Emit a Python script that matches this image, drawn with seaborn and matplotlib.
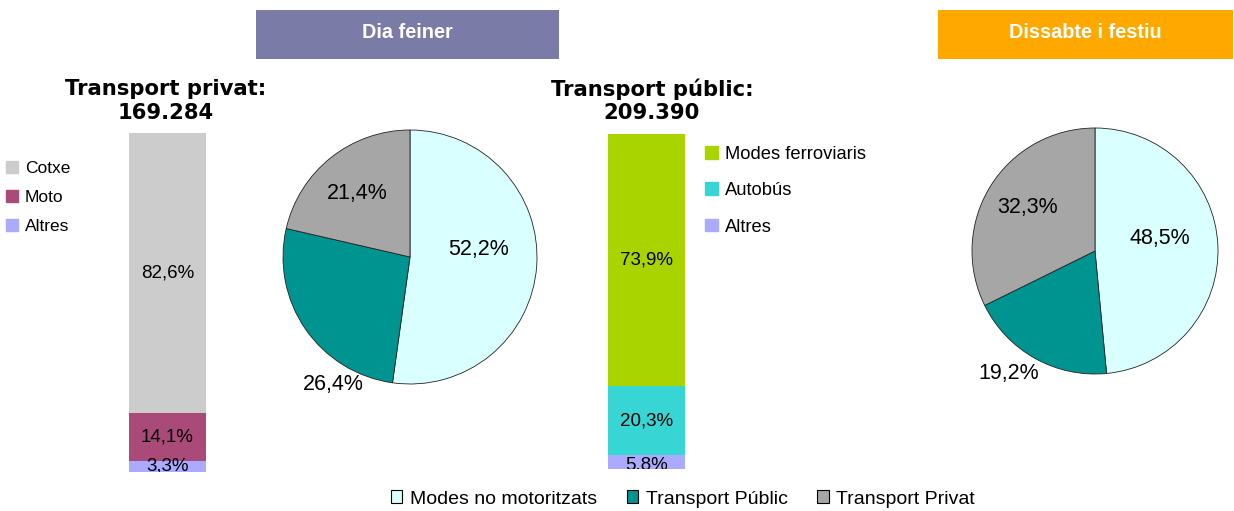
import numpy as np
import seaborn as sns
import matplotlib
matplotlib.use('Agg')
import matplotlib.pyplot as plt
from matplotlib.patches import Patch, Rectangle

# DATA
priv_labels = ['Cotxe', 'Moto', 'Altres']
priv_values = [82.6, 14.1, 3.3]
priv_colors = ['#CCCCCC', '#A94A78', '#AAAAFF']

pub_labels = ['Modes ferroviaris', 'Autobús', 'Altres']
pub_values = [73.9, 20.3, 5.8]
pub_colors = ['#AAD400', '#38D5D5', '#AAAAFF']

mode_labels = ['Modes no motoritzats', 'Transport Públic', 'Transport Privat']
mode_colors = ['#D9FFFF', '#009490', '#A6A6A6']
feiner_values = [52.2, 26.4, 21.4]
festiu_values = [48.5, 19.2, 32.3]

priv_total = '169.284'
pub_total = '209.390'

W, H = 1234, 511
sns.set_theme(style='white')
plt.rcParams['font.family'] = ['Liberation Sans', 'DejaVu Sans']
plt.rcParams['text.color'] = 'black'

fig = plt.figure(figsize=(W / 100, H / 100), dpi=100)


def px_box(x0, y0, x1, y1):
    return [x0 / W, 1 - y1 / H, (x1 - x0) / W, (y1 - y0) / H]


def pct(v):
    return f'{v:.1f}%'.replace('.', ',')


# STACKED BARS
def stacked_bar(box, values, colors, ymin):
    ax = fig.add_axes(px_box(*box))
    tops = np.cumsum(values[::-1])[::-1]
    for v, top, c in zip(values, tops, colors):
        sns.barplot(x=[0], y=[top], color=c, saturation=1, width=1,
                    linewidth=0, ax=ax)
        ax.text(0, top - v / 2, pct(v), ha='center', va='center',
                fontsize=13.5, color='black', clip_on=True)
    ax.set_xlim(-0.5, 0.5)
    ax.set_ylim(ymin, 100)
    ax.axis('off')
    return ax


ax_priv = stacked_bar((129, 133, 206, 472), priv_values, priv_colors, 0)
ax_pub = stacked_bar((608, 134, 685, 469), pub_values, pub_colors, 1.8)

for x, text in [(166, 'Transport privat:\n' + priv_total),
                (652, 'Transport públic:\n' + pub_total)]:
    fig.text(x / W, 1 - 101 / H, text, ha='center', va='center',
             fontsize=15.2, fontweight='bold', family='DejaVu Sans',
             linespacing=1.2, color='black')

leg_kw = dict(frameon=False, handlelength=0.7, handleheight=0.7,
              handletextpad=0.4, borderpad=0, borderaxespad=0)
fig.legend(handles=[Patch(color=c, label=l) for l, c in zip(priv_labels, priv_colors)],
           loc='upper left', bbox_to_anchor=(6 / W, 1 - 161 / H),
           labelspacing=0.8, fontsize=12.5, **leg_kw)
fig.legend(handles=[Patch(color=c, label=l) for l, c in zip(pub_labels, pub_colors)],
           loc='upper left', bbox_to_anchor=(705 / W, 1 - 146 / H),
           labelspacing=1.05, fontsize=13.2, **leg_kw)


# PIES
def pie(cx, cy, r, values, label_pos):
    k = 1.3
    ax = fig.add_axes(px_box(cx - k * r, cy - k * r, cx + k * r, cy + k * r))
    ax.pie(values, colors=mode_colors, startangle=90, counterclock=False,
           wedgeprops=dict(edgecolor='#222222', linewidth=0.6))
    ax.set_xlim(-k, k)
    ax.set_ylim(-k, k)
    ax.set_aspect('equal')
    ax.axis('off')
    for v, (rr, ang) in zip(values, label_pos):
        a = np.deg2rad(ang)
        ax.text(rr * np.cos(a), rr * np.sin(a), pct(v), ha='center',
                va='center', fontsize=15.5, color='black')
    return ax


pie(410, 257, 127, feiner_values, [(0.54, 6), (1.17, -121), (0.65, 130)])
pie(1095, 251, 123, festiu_values, [(0.54, 11), (1.22, -125), (0.65, 147)])

# HEADER BOXES
for (x0, x1), text, col in [((256, 559), 'Dia feiner', '#7B7BA8'),
                            ((938, 1233), 'Dissabte i festiu', '#FFA800')]:
    fig.add_artist(Rectangle((x0 / W, 1 - 59 / H), (x1 - x0) / W, 49 / H,
                             transform=fig.transFigure, color=col, lw=0))
    fig.text((x0 + x1) / 2 / W, 1 - 33 / H, text, ha='center', va='center',
             fontsize=14.3, fontweight='bold', color='white')

# BOTTOM LEGEND
fig.legend(handles=[Patch(facecolor=c, edgecolor='black', linewidth=0.8, label=l)
                    for l, c in zip(mode_labels, mode_colors)],
           loc='center', bbox_to_anchor=(683 / W, 1 - 499 / H), ncol=3,
           frameon=False, fontsize=14, handlelength=0.6, handleheight=0.6,
           handletextpad=0.4, columnspacing=1.5, borderpad=0)

fig.savefig('out.png', dpi=100)
